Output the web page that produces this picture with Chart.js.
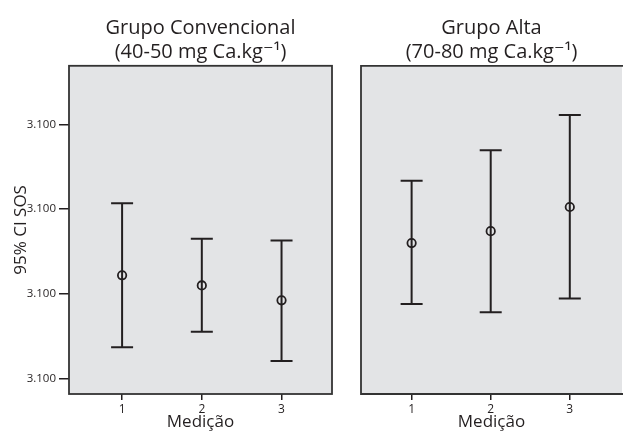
<!DOCTYPE html>
<html>
<head>
<meta charset="utf-8">
<script src="https://cdn.jsdelivr.net/npm/chart.js@4.4.1/dist/chart.umd.min.js"></script>
<style>
  html, body { margin: 0; padding: 0; background: #fff; overflow: hidden; }
  body { width: 623px; height: 436px; position: relative; }
  canvas { position: absolute; top: 0; }
  #left { left: 0; }
  #right { left: 345px; }
</style>
</head>
<body>
<canvas id="left" width="345" height="436"></canvas>
<canvas id="right" width="290" height="436"></canvas>
<script>
// measurement number on the x axis
const medicoes = [1, 2, 3];

// y axis ticks (all printed as 3.100 in the original figure)
const yTicks = [0, 1, 2, 3];
const yTickLabels = ['3.100', '3.100', '3.100', '3.100'];

// Grupo Convencional: mean and 95% CI
const convMean = [1.22, 1.10, 0.925];
const convLow = [0.37, 0.555, 0.21];
const convHigh = [2.07, 1.65, 1.63];

// Grupo Alta: mean and 95% CI
const altaMean = [1.60, 1.74, 2.025];
const altaLow = [0.88, 0.785, 0.945];
const altaHigh = [2.335, 2.695, 3.11];

const INK = '#231f20';
const FONT = "'Open Sans', 'DejaVu Sans', sans-serif";

// gray plot area with a dark frame (right panel runs off the page, so no right edge)
const panelBox = {
    id: 'panelBox',
    beforeDraw(chart) {
        const { ctx, chartArea: a } = chart;
        ctx.save();
        ctx.fillStyle = '#e3e4e6';
        ctx.fillRect(a.left, a.top, a.right - a.left, a.bottom - a.top);
        ctx.restore();
    },
    afterDraw(chart, args, opts) {
        const { ctx, chartArea: a } = chart;
        ctx.save();
        ctx.strokeStyle = '#333';
        ctx.lineWidth = 1.8;
        if (opts.openRight) {
            ctx.beginPath();
            ctx.moveTo(chart.width, a.top);
            ctx.lineTo(a.left, a.top);
            ctx.lineTo(a.left, a.bottom);
            ctx.lineTo(chart.width, a.bottom);
            ctx.stroke();
        } else {
            ctx.strokeRect(a.left, a.top, a.right - a.left, a.bottom - a.top);
        }
        ctx.restore();
    }
};

function buildDatasets(mean, low, high) {
    const sets = medicoes.map((m, i) => ({
        type: 'line',
        data: [{ x: m, y: low[i] }, { x: m, y: high[i] }],
        borderColor: INK,
        borderWidth: 2,
        pointStyle: 'line',
        pointRadius: 11,
        pointBorderWidth: 2,
        pointBorderColor: INK
    }));
    sets.push({
        type: 'scatter',
        data: medicoes.map((m, i) => ({ x: m, y: mean[i] })),
        pointStyle: 'circle',
        pointRadius: 4.2,
        pointBorderWidth: 1.8,
        pointBorderColor: INK,
        pointBackgroundColor: 'rgba(0,0,0,0)'
    });
    return sets;
}

function makeChart(id, title, mean, low, high, showY, yWidth, xMin, xMax, padRight) {
    const ctx = document.getElementById(id).getContext('2d');
    return new Chart(ctx, {
        type: 'scatter',
        data: { datasets: buildDatasets(mean, low, high) },
        options: {
            responsive: false,
            animation: false,
            layout: { padding: { left: 0, right: padRight, top: 0, bottom: 0 } },
            plugins: {
                legend: { display: false },
                tooltip: { enabled: false },
                panelBox: { openRight: !showY },
                title: {
                    display: true,
                    fullSize: false,
                    text: title,
                    color: INK,
                    font: { family: FONT, size: 20, weight: 'normal', lineHeight: 1.22 },
                    padding: { top: 16, bottom: 1 }
                }
            },
            scales: {
                x: {
                    type: 'linear',
                    min: xMin,
                    max: xMax,
                    afterBuildTicks: scale => { scale.ticks = medicoes.map(v => ({ value: v })); },
                    afterFit: scale => {
                        scale.height = 42;
                        scale.paddingLeft = 0;
                        scale.paddingRight = 0;
                    },
                    grid: { display: true, drawOnChartArea: false, drawTicks: true, tickLength: 6, color: INK, lineWidth: 1.5 },
                    border: { display: false },
                    ticks: { color: INK, font: { family: FONT, size: 12 }, padding: 2, callback: v => String(v) },
                    title: {
                        display: true,
                        text: 'Medição',
                        color: INK,
                        font: { family: FONT, size: 17 },
                        padding: { top: 0, bottom: 4 }
                    }
                },
                y: {
                    type: 'linear',
                    min: -0.18,
                    max: 3.69,
                    afterBuildTicks: scale => { scale.ticks = yTicks.map(v => ({ value: v })); },
                    afterFit: scale => { scale.width = yWidth; },
                    grid: { display: showY, drawOnChartArea: false, drawTicks: true, tickLength: 10, color: INK, lineWidth: 1.5 },
                    border: { display: false },
                    ticks: {
                        display: showY,
                        color: INK,
                        font: { family: FONT, size: 11.5 },
                        padding: 3,
                        callback: (v, i) => yTickLabels[i]
                    },
                    title: {
                        display: showY,
                        text: '95% CI SOS',
                        color: INK,
                        font: { family: FONT, size: 17 },
                        padding: { top: 11, bottom: 0 }
                    }
                }
            }
        },
        plugins: [panelBox]
    });
}

makeChart('left', ['Grupo Convencional', '(40-50 mg Ca.kg⁻¹)'], convMean, convLow, convHigh,
    true, 69, 0.334, 3.633, 11);
makeChart('right', ['Grupo Alta', '(70-80 mg Ca.kg⁻¹)'], altaMean, altaLow, altaHigh,
    false, 16, 0.36, 3.66, 10);
</script>
</body>
</html>
